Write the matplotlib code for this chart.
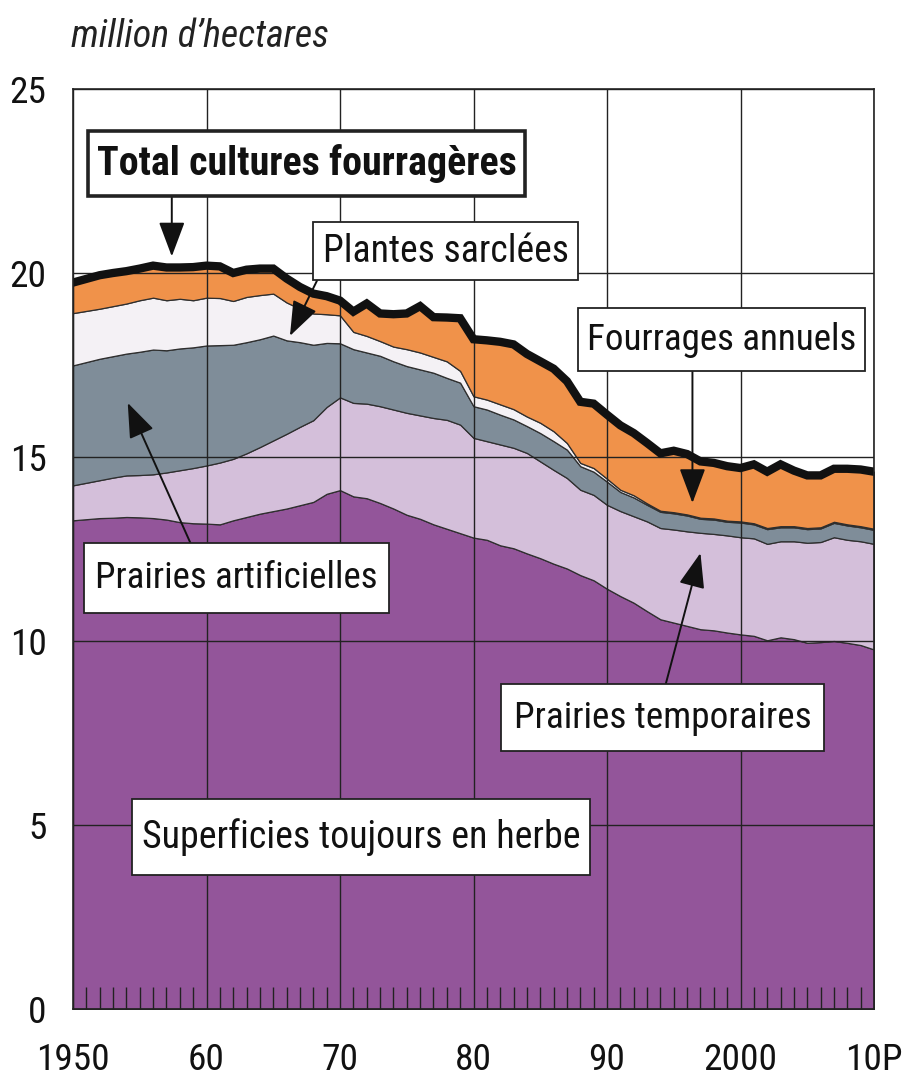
import matplotlib
matplotlib.use("Agg")
import matplotlib.pyplot as plt
import matplotlib.font_manager as fm
from matplotlib.patches import Rectangle
import numpy as np

years = list(range(1950, 2011))

superficies_toujours_en_herbe = [
    13.28, 13.31, 13.34, 13.35, 13.37, 13.36, 13.34, 13.30, 13.23, 13.20,
    13.19, 13.17, 13.28, 13.37, 13.46, 13.53, 13.60, 13.69, 13.78, 14.00,
    14.10, 13.93, 13.88, 13.75, 13.60, 13.43, 13.32, 13.17, 13.05, 12.93,
    12.81, 12.75, 12.60, 12.52, 12.38, 12.25, 12.10, 11.97, 11.79, 11.65,
    11.42, 11.22, 11.04, 10.81, 10.59, 10.50, 10.41, 10.32, 10.29, 10.23,
    10.18, 10.14, 10.02, 10.10, 10.05, 9.95, 9.97, 10.00, 9.95, 9.89,
    9.77]
prairies_temporaires = [
    0.95, 0.99, 1.03, 1.09, 1.13, 1.15, 1.19, 1.28, 1.41, 1.50,
    1.58, 1.68, 1.67, 1.73, 1.81, 1.92, 2.03, 2.13, 2.22, 2.36,
    2.52, 2.54, 2.57, 2.63, 2.69, 2.77, 2.81, 2.89, 2.96, 2.95,
    2.71, 2.68, 2.74, 2.73, 2.73, 2.63, 2.55, 2.46, 2.32, 2.32,
    2.28, 2.31, 2.35, 2.44, 2.48, 2.53, 2.57, 2.62, 2.62, 2.64,
    2.64, 2.65, 2.62, 2.61, 2.66, 2.72, 2.72, 2.82, 2.80, 2.82,
    2.87]
prairies_artificielles = [
    3.26, 3.28, 3.30, 3.30, 3.31, 3.35, 3.39, 3.32, 3.31, 3.28,
    3.26, 3.19, 3.10, 3.02, 2.93, 2.85, 2.54, 2.30, 2.05, 1.74,
    1.47, 1.46, 1.39, 1.37, 1.31, 1.27, 1.25, 1.23, 1.14, 1.14,
    0.86, 0.86, 0.81, 0.77, 0.73, 0.77, 0.78, 0.77, 0.64, 0.63,
    0.63, 0.52, 0.51, 0.45, 0.44, 0.44, 0.43, 0.38, 0.39, 0.37,
    0.40, 0.38, 0.40, 0.38, 0.38, 0.37, 0.37, 0.39, 0.39, 0.38,
    0.38]
plantes_sarclees = [
    1.42, 1.39, 1.36, 1.36, 1.36, 1.40, 1.41, 1.36, 1.35, 1.28,
    1.30, 1.28, 1.19, 1.23, 1.20, 1.14, 1.03, 0.91, 0.85, 0.78,
    0.76, 0.47, 0.45, 0.40, 0.40, 0.46, 0.46, 0.43, 0.45, 0.32,
    0.27, 0.27, 0.28, 0.28, 0.26, 0.28, 0.27, 0.18, 0.09, 0.10,
    0.08, 0.06, 0.06, 0.04, 0.03, 0.03, 0.03, 0.03, 0.03, 0.03,
    0.03, 0.03, 0.03, 0.03, 0.03, 0.03, 0.03, 0.03, 0.03, 0.03,
    0.03]
fourrages_annuels = [
    0.83, 0.87, 0.91, 0.90, 0.88, 0.86, 0.87, 0.89, 0.85, 0.90,
    0.87, 0.86, 0.76, 0.74, 0.72, 0.68, 0.65, 0.59, 0.54, 0.49,
    0.40, 0.55, 0.88, 0.75, 0.88, 0.97, 1.26, 1.08, 1.19, 1.43,
    1.55, 1.61, 1.70, 1.76, 1.70, 1.67, 1.70, 1.68, 1.66, 1.75,
    1.74, 1.75, 1.69, 1.64, 1.56, 1.67, 1.64, 1.53, 1.51, 1.48,
    1.45, 1.60, 1.53, 1.68, 1.51, 1.43, 1.41, 1.44, 1.51, 1.54,
    1.55]

decade_ticks = [1950, 1960, 1970, 1980, 1990, 2000, 2010]
decade_labels = ['1950', '60', '70', '80', '90', '2000', '10P']
y_ticks = [0, 5, 10, 15, 20, 25]

colors = ['#93559A', '#D4BFDA', '#7F8D99', '#F4F1F5', '#F0924A']


def pick_font():
    ttf = fm.fontManager.ttflist
    names = {f.name for f in ttf}
    for n in ['Liberation Sans Narrow', 'Roboto Condensed',
              'Open Sans Condensed', 'Noto Sans Condensed',
              'DejaVu Sans Condensed', 'Lato Condensed']:
        if n in names:
            return n, 'normal'
    for fam in ['Roboto', 'Noto Sans', 'Open Sans', 'DejaVu Sans']:
        if any(f.name == fam and str(f.stretch) in
               ('condensed', 'semi-condensed', 'extra-condensed')
               for f in ttf):
            return fam, 'condensed'
    for fam in ['Roboto', 'Lato', 'Noto Sans']:
        if fam in names:
            return fam, 'normal'
    return 'DejaVu Sans', 'normal'


FAMILY, STRETCH = pick_font()
plt.rcParams['font.family'] = [FAMILY, 'DejaVu Sans']
plt.rcParams['font.stretch'] = STRETCH

W, H = 905, 1081
fig = plt.figure(figsize=(W / 100, H / 100), dpi=100)
L, R, B, T = 73, 874, 1009, 89
ax = fig.add_axes([L / W, 1 - B / H, (R - L) / W, (B - T) / H])

layers = [superficies_toujours_en_herbe, prairies_temporaires,
          prairies_artificielles, plantes_sarclees, fourrages_annuels]
ax.stackplot(years, *layers, colors=colors, edgecolor='#2e2e2e',
             linewidth=0.9, zorder=1)
total = np.sum(np.array(layers), axis=0)
ax.plot(years, total, color='#111111', lw=6, solid_joinstyle='miter',
        zorder=3)

ax.set_xlim(1950, 2010)
ax.set_ylim(0, 25)
ax.set_xticks(decade_ticks)
ax.set_xticklabels(decade_labels)
ax.set_xticks([y for y in years if y % 10 != 0], minor=True)
ax.set_yticks(y_ticks)
ax.set_yticklabels([str(v) for v in y_ticks])
ax.grid(True, which='major', color='#222222', lw=1.0)
ax.set_axisbelow(False)
ax.tick_params(axis='x', which='major', length=0, pad=24, labelsize=28,
               labelcolor='#111111')
ax.tick_params(axis='y', which='major', length=0, pad=19, labelsize=28,
               labelcolor='#111111')
ax.tick_params(axis='x', which='minor', direction='in', length=16,
               width=1.0, color='#222222')
for s in ax.spines.values():
    s.set_color('#222222')
    s.set_linewidth(1.2)
    s.set_zorder(4)

title = fig.text(71 / W, 1 - 47 / H, 'million d\u2019hectares',
                 style='italic', fontsize=29, ha='left', va='baseline',
                 color='#222222')


def fx(px):
    return (px - L) / (R - L)


def fy(py):
    return (B - py) / (B - T)


texts = []


def box(x0, y0, x1, y1, s, text_w, bold=False, lw=1.3):
    ax.add_patch(Rectangle((fx(x0), fy(y1)), fx(x1) - fx(x0),
                           fy(y0) - fy(y1), transform=ax.transAxes,
                           fc='white', ec='#222222', lw=lw, zorder=6,
                           clip_on=False))
    t = ax.text(fx((x0 + x1) / 2), fy((y0 + y1) / 2), s,
                transform=ax.transAxes, ha='center', va='center',
                fontsize=29, fontweight='bold' if bold else 'normal',
                color='#111111', zorder=7)
    texts.append((t, text_w, 34))


def arrow(tip, tail):
    ax.annotate('', xy=tip, xytext=tail, xycoords='data', textcoords='data',
                arrowprops=dict(arrowstyle='-|>,head_length=1.2,head_width=0.45',
                                color='#111111', lw=1.4, mutation_scale=18,
                                shrinkA=0, shrinkB=0),
                zorder=5)


box(88, 131, 525, 196, 'Total cultures fourragères', 418, bold=True, lw=2.6)
box(313, 222, 578, 280, 'Plantes sarclées', 246)
box(578, 308, 865, 371, 'Fourrages annuels', 270)
box(84, 543, 389, 613, 'Prairies artificielles', 283)
box(501, 684, 824, 751, 'Prairies temporaires', 299)
box(132, 799, 590, 875, 'Superficies toujours en herbe', 439)

arrow((1957.4, 20.45), (1957.4, 22.09))
arrow((1966.25, 18.29), (1968.3, 19.81))
arrow((1996.4, 13.75), (1996.4, 17.34))
arrow((1954.1, 16.47), (1958.8, 12.66))
arrow((1997.0, 12.39), (1994.4, 8.83))

texts.append((title, 258, 32))

# fit text sizes to the reference widths
fig.canvas.draw()
rend = fig.canvas.get_renderer()
for t, tw, mx in texts:
    w = t.get_window_extent(rend).width
    t.set_fontsize(min(t.get_fontsize() * tw / w, mx))
lab = ax.get_xticklabels()[0]
w = lab.get_window_extent(rend).width
tick_size = min(28 * 74 / w, 31)
ax.tick_params(axis='both', which='major', labelsize=tick_size)

fig.savefig('out.png', dpi=100)
